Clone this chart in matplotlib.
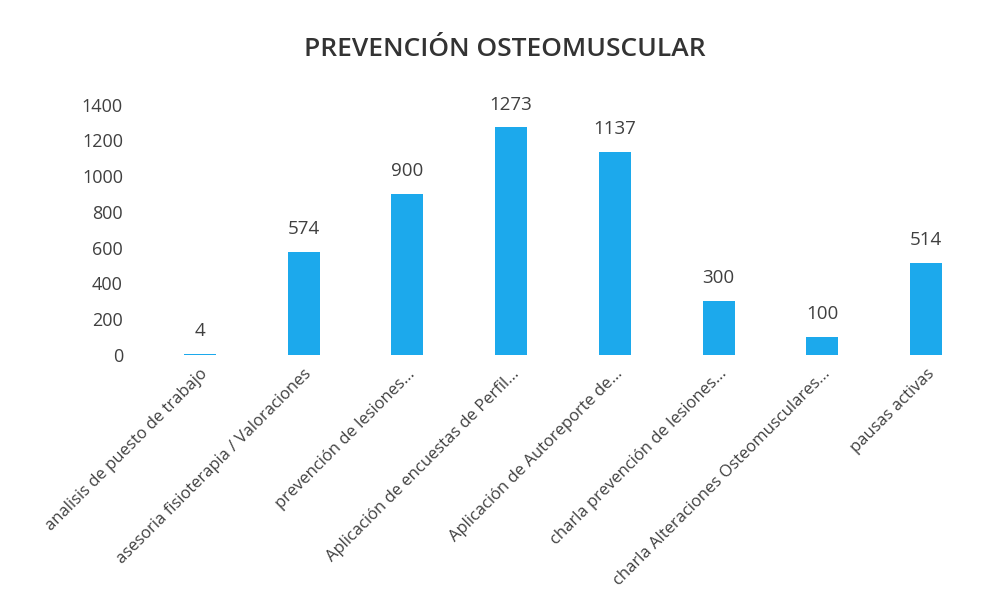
import matplotlib.pyplot as plt
import numpy as np

# data
categorias = ["analisis de puesto de trabajo",
              "asesoria fisioterapia / Valoraciones",
              "prevención de lesiones...",
              "Aplicación de encuestas de Perfil...",
              "Aplicación de Autoreporte de...",
              "charla prevención de lesiones...",
              "charla Alteraciones Osteomusculares...",
              "pausas activas"]
valores = [4, 574, 900, 1273, 1137, 300, 100, 514]
yticks = [0, 200, 400, 600, 800, 1000, 1200, 1400]

azul = "#1CA9EC"
gris = "#404040"
plt.rcParams['font.family'] = ['Open Sans', 'DejaVu Sans']

fig = plt.figure(figsize=(10, 6.16), dpi=100)
ax = fig.add_axes([0.148, 0.424, 0.83, 0.406])

x = np.arange(len(categorias))
ax.bar(x, valores, width=0.31, color=azul)
for xi, v in zip(x, valores):
    ax.annotate(str(v), (xi, v), xytext=(0, 10), textcoords='offset points',
                ha='center', va='bottom', fontsize=13.5, color=gris)

ax.set_xlim(-0.5, len(categorias) - 0.5)
ax.set_ylim(0, 1400)
ax.set_yticks(yticks)
ax.set_xticks(x)
ax.set_xticklabels(categorias, rotation=45, ha='right', rotation_mode='anchor',
                   fontsize=12, color='#222222')
ax.tick_params(axis='both', length=0, colors=gris)
ax.tick_params(axis='y', pad=18, labelsize=13)
ax.tick_params(axis='x', pad=8)
for s in ax.spines.values():
    s.set_visible(False)

fig.text(0.505, 0.92, "PREVENCIÓN OSTEOMUSCULAR", ha='center', va='center',
         fontsize=19, fontweight='semibold', color='#333333')

fig.savefig("out.png", dpi=100)
